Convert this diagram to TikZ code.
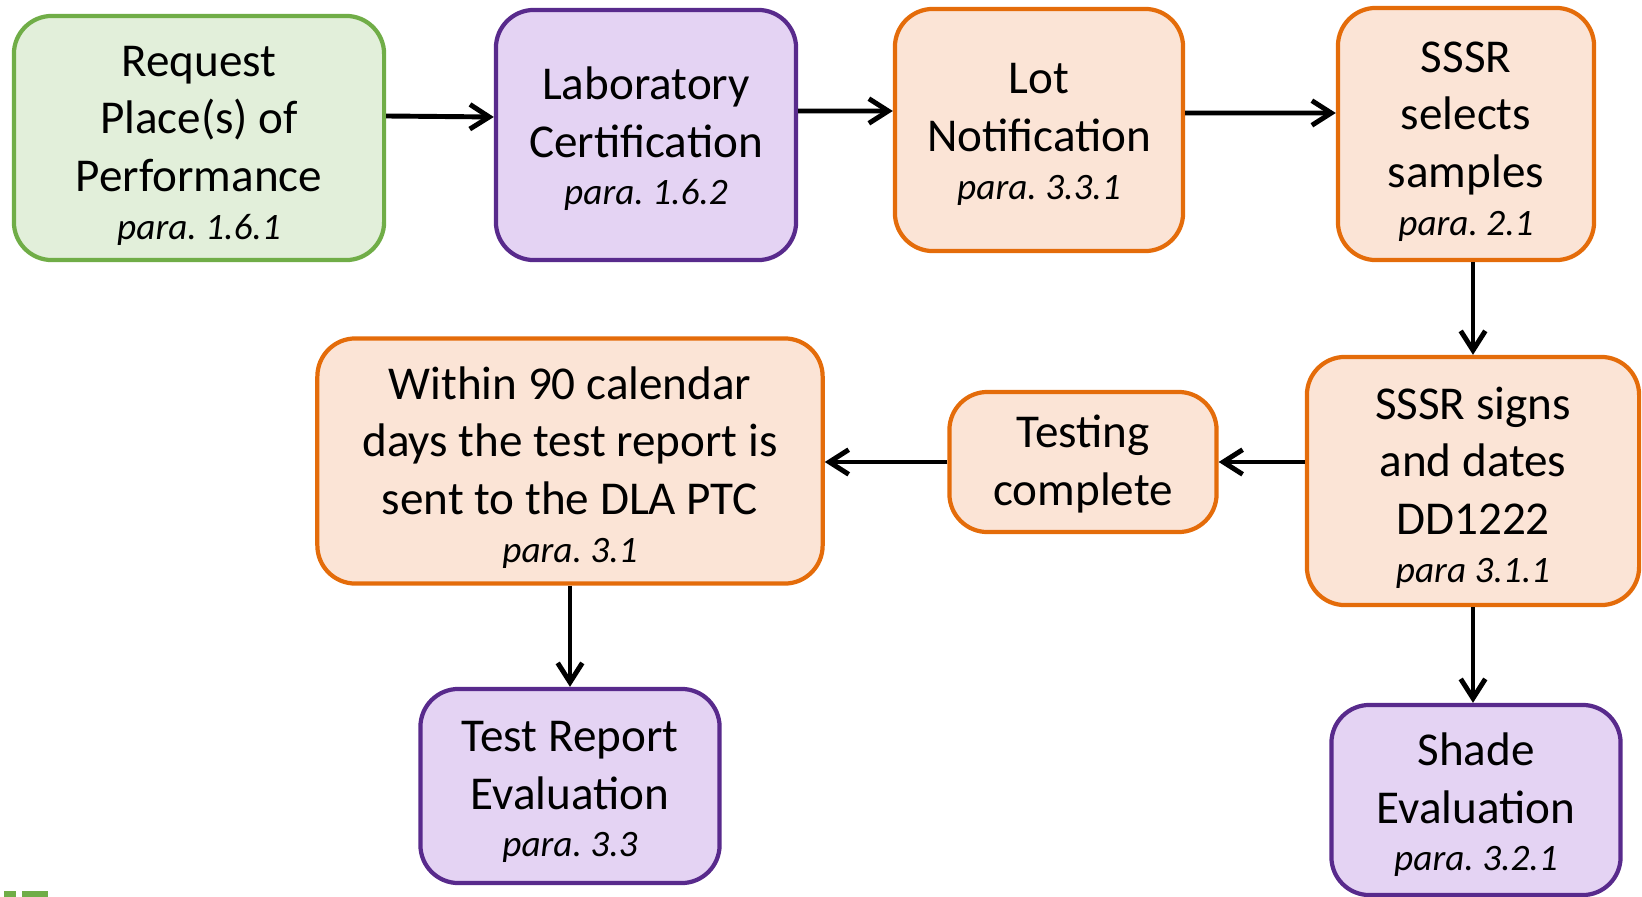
\documentclass[tikz,border=0pt]{standalone}
\usepackage{fontspec}
\setmainfont{Carlito}
\usepackage{tikz}
\usetikzlibrary{arrows.meta,positioning}
\frenchspacing

\definecolor{greenline}{HTML}{70AD47}
\definecolor{greenfill}{HTML}{E2EFDA}
\definecolor{purpleline}{HTML}{582A8C}
\definecolor{purplefill}{HTML}{E4D3F3}
\definecolor{orangeline}{HTML}{E46C0A}
\definecolor{orangefill}{HTML}{FBE4D6}

\begin{document}
\begin{tikzpicture}[x=0.01cm,y=-0.01cm,
    box/.style={draw, line width=1.2pt, rounded corners=0.38cm, align=center, inner sep=0pt,
        font=\fontsize{13.4}{16.4}\selectfont},
    greenbox/.style={box, draw=greenline, fill=greenfill},
    purplebox/.style={box, draw=purpleline, fill=purplefill},
    orangebox/.style={box, draw=orangeline, fill=orangefill},
    flow/.style={line width=1.4pt, -{Straight Barb[length=5.5pt,width=7pt,line width=1.4pt]}}]

\useasboundingbox (0,0) rectangle (1642,897);

% top row
\node [greenbox, minimum width=3.70cm, minimum height=2.44cm] (req) at (199,138)
    {\rule{0pt}{13pt}Request\\Place(s) of\\Performance\\[-2.8pt]{\fontsize{10.6}{12}\selectfont\itshape para. 1.6.1}};
\node [purplebox, minimum width=3.00cm, minimum height=2.50cm] (lab) at (646,135)
    {\rule{0pt}{11.5pt}Laboratory\\Certification\\[-2.8pt]{\fontsize{10.6}{12}\selectfont\itshape para. 1.6.2}};
\node [orangebox, minimum width=2.88cm, minimum height=2.42cm] (lot) at (1039,130)
    {\rule{0pt}{11pt}Lot\\Notification\\[-2.8pt]{\fontsize{10.6}{12}\selectfont\itshape para. 3.3.1}};
\node [orangebox, minimum width=2.56cm, minimum height=2.52cm] (sel) at (1466,134)
    {\rule{0pt}{13pt}SSSR\\selects\\samples\\[-2.8pt]{\fontsize{10.6}{12}\selectfont\itshape para. 2.1}};

% middle row
\node [orangebox, minimum width=3.32cm, minimum height=2.48cm] (signs) at (1473,481)
    {\rule{0pt}{13pt}SSSR signs\\and dates\\DD1222\\[-2.8pt]{\fontsize{10.6}{12}\selectfont\itshape para 3.1.1}};
\node [orangebox, minimum width=2.67cm, minimum height=1.40cm] (tst) at (1083,462)
    {\rule{0pt}{10.5pt}Testing\\complete};
\node [orangebox, minimum width=5.05cm, minimum height=2.45cm] (within) at (570,461)
    {\rule{0pt}{13pt}Within 90 calendar\\days the test report is\\sent to the DLA PTC\\[-2.8pt]{\fontsize{10.6}{12}\selectfont\itshape para. 3.1}};

% bottom row
\node [purplebox, minimum width=2.99cm, minimum height=1.94cm] (treval) at (570,786)
    {\rule{0pt}{12pt}Test Report\\Evaluation\\[-2.8pt]{\fontsize{10.6}{12}\selectfont\itshape para. 3.3}};
\node [purplebox, minimum width=2.89cm, minimum height=1.90cm] (shade) at (1476,800)
    {\rule{0pt}{12pt}Shade\\Evaluation\\[-2.8pt]{\fontsize{10.6}{12}\selectfont\itshape para. 3.2.1}};

% connectors
\draw [flow] ([yshift=0.22cm]req.east) -- ([yshift=0.18cm]lab.west);
\draw [flow] ([yshift=0.24cm]lab.east) -- ([yshift=0.19cm]lot.west);
\draw [flow] ([yshift=0.17cm]lot.east) -- ([yshift=0.21cm]sel.west);
\draw [flow] (sel.south -| signs.north) -- (signs.north);
\draw [flow] (signs.west |- tst.east) -- (tst.east);
\draw [flow] (tst.west) -- (tst.west -| within.east);
\draw [flow] (within.south) -- (treval.north);
\draw [flow] (signs.south) -- (signs.south |- shade.north);

% cut-off green mark at the lower left
\fill [greenline] (4,891) rectangle (16,897);
\fill [greenline] (22,891) rectangle (48,897);

\end{tikzpicture}
\end{document}
